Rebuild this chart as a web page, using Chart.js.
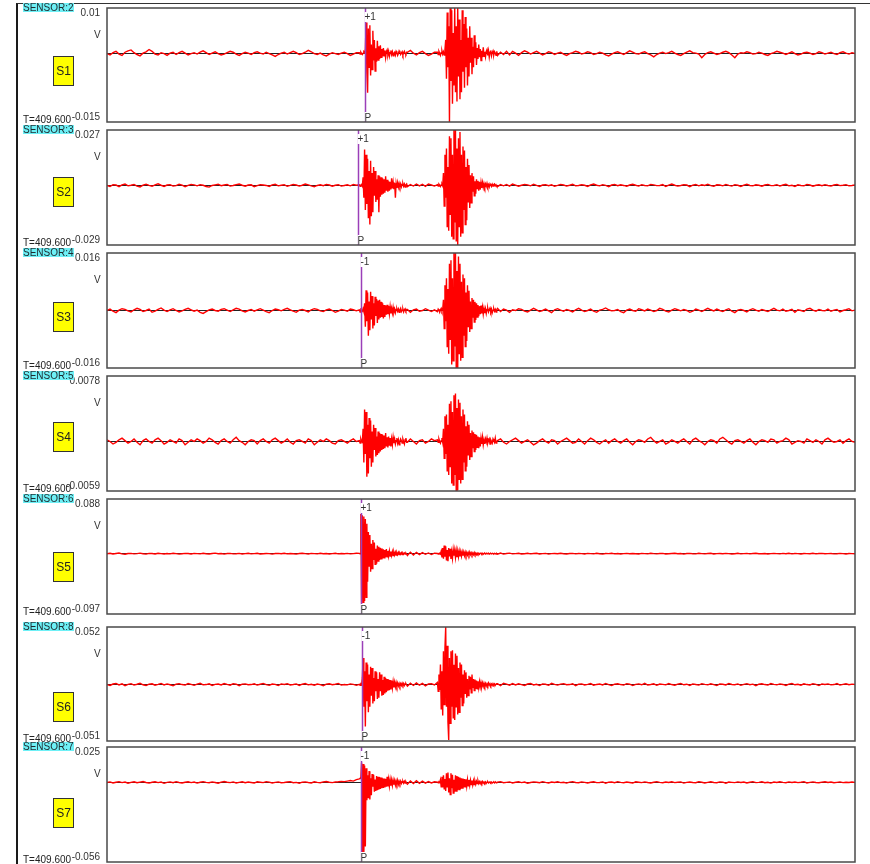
<!DOCTYPE html>
<html>
<head>
<meta charset="utf-8">
<title>Sensor waveforms</title>
<script src="https://cdn.jsdelivr.net/npm/chart.js@4.4.1/dist/chart.umd.min.js"></script>
<style>
  body { margin: 0; background: #fff; font-family: "Liberation Sans", Arial, sans-serif; }
  #page { position: relative; width: 870px; height: 864px; overflow: hidden; }
  #frame { position: absolute; left: 16px; top: 3px; right: 0; bottom: 0; border-left: 2px solid #1a1a1a; border-top: 1px solid #333; }
  .panel { position: absolute; left: 18px; width: 852px; }
  .panel canvas { position: absolute; left: 0; top: 0; }
  .sensor { position: absolute; left: 5px; top: 3px; height: 9px; line-height: 9px; font-size: 10px; background: #6ef0f6; color: #1e2a2e; white-space: nowrap; }
  .unit { position: absolute; left: 76px; top: 30px; font-size: 10px; line-height: 10px; color: #333; }
  .badge { position: absolute; left: 35px; width: 19px; height: 28px; border: 1px solid #333; background: #ffff00; color: #222; font-size: 12px; line-height: 28px; text-align: center; }
  .stamp { position: absolute; left: 5px; font-size: 10px; line-height: 10px; color: #222; white-space: nowrap; }
</style>
</head>
<body>
<div id="page"><div id="frame"></div></div>
<script>
// channel names, badges and vertical ranges (V)
const sensorNames = ['SENSOR:2', 'SENSOR:3', 'SENSOR:4', 'SENSOR:5', 'SENSOR:6', 'SENSOR:8', 'SENSOR:7'];
const channelLabels = ['S1', 'S2', 'S3', 'S4', 'S5', 'S6', 'S7'];
const yMax = [0.01, 0.027, 0.016, 0.0078, 0.088, 0.052, 0.025];
const yMin = [-0.015, -0.029, -0.016, -0.0059, -0.097, -0.051, -0.056];
const startTime = 'T=409.600';

// P picks: sample position, first-motion polarity and phase name
const pickSample = [86, 83.6, 84.6, null, 84.6, 84.9, 84.6];
const pickPolarity = ['+1', '+1', '-1', null, '+1', '-1', '-1'];
const pickPhase = ['P', 'P', 'P', null, 'P', 'P', 'P'];

// sample grid: [from, to, step] in samples; the P and S windows are recorded at 4x rate
const gridSegments = [[0, 84, 1], [84, 100, 0.25], [100, 110, 1], [110, 130, 0.25], [130, 250, 1]];

// samples in 0.1 mV counts, one value per grid point (358 per channel)
const UNIT = 1e-4;
const s1 = [
  // 0-83
  0, -3, 2, 5, -1, -4, 3, 6, 8, 2, -2, -5, 1, 4, 9, 5, -1, -3, 2, 0,
  -4, 1, 3, -2, 2, 5, 1, -3, 0, 2, -1, 3, 6, 2, -2, 1, 4, 0, -3, -1,
  2, 5, 3, -1, -4, 0, 3, 1, -2, 2, 4, 1, -1, 3, 0, -3, -6, -2, 1, 3,
  -1, 2, 5, 2, -2, 0, 3, 7, 4, 0, -2, 1, -3, -5, -1, 2, 0, -2, 1, 3,
  0, -4, -1, 2,
  // 84-100 (P)
  2, -1, 3, 0, -2, 1, 4, 2, 10, 68, -40, -86, 55, -30, 62, -48,
  20, -35, 50, -15, 30, -38, 12, -18, 28, -14, 16, -12, 18, -8, 10, -6,
  12, -5, 7, -9, 4, 8, -3, 5, -6, 2, 7, -2, 4, -5, 1, 3,
  -3, 5, 2, -4, 0, 6, 3, -2, 1, 4, -3, 2, 5, 0, -2, 3,
  // 100-109
  3, 7, 1, -3, 2, 5, 0, -4, -1, 3,
  // 110-130 (S)
  3, -2, 5, 1, -4, 2, 6, -1, 4, -3, 8, 30, -55, 90, -30, 60,
  -150, 100, -60, 95, -110, 45, -70, 100, -85, 60, -105, 100, -50, 75, -100, 30,
  -85, 95, -40, 65, -75, 80, -30, 55, -70, 35, -50, 60, -20, 35, -45, 15,
  -30, 40, -10, 25, -25, 12, -12, 20, -8, 10, -15, 6, -8, 14, -6, 4,
  -7, 5, 9, -4, 6, -8, 3, 7, -5, 2, 6, -3, 4, 1, -4, 5,
  // 130-249
  -4, 3, -2, 5, -3, 5, 1, -4, 2, 6, 3, -1, 2, 5, 1, -3, 0, 4, 2, -2,
  1, 3, -1, -4, 0, 2, 5, 3, -1, 1, 4, 2, -2, 0, 3, 1, -3, -5, -1, 2,
  4, 1, -2, 2, 6, 3, 0, -1, 2, 4, 0, -3, -7, -2, 1, 3, 0, 2, 5, 1,
  -2, -4, 0, 3, 6, 2, 1, -1, -9, -2, 2, 4, 1, -2, 0, 3, 5, 2, -3, -9,
  -1, 2, 1, 4, 2, -1, 0, 3, 1, -2, -4, 0, 2, 5, 3, 1, -2, 1, 4, 0,
  -3, -1, 2, 3, 1, -2, 0, 4, 2, -1, 1, 3, 0, -2, 2, 4, 1, -1, 2, 0
];
const s2 = [
  0, -5, 4, 2, -6, 3, 7, -2, 1, 5, -3, -7, 2, 6, 0, -4, 3, 8, 1, -5,
  2, 4, -3, -1, 6, 2, -6, 0, 5, 3, -2, 4, 1, -5, -8, 0, 3, 6, -1, 2,
  5, -3, 0, 4, 7, 1, -4, 2, 3, -6, -1, 4, 2, 0, -5, 3, 6, -2, 1, 4,
  -4, 0, 5, 2, -3, 1, 7, 3, -2, -6, 0, 3, -1, 5, 2, -4, 1, 4, -3, 0,
  3, -2, 5, 1,
  3, -4, 2, 5, -3, 40, -60, 175, -120, 150, -90, 130, -160, 70, -190, 120,
  -150, 60, -130, 90, -50, 70, -80, 30, -70, 50, -130, 45, -55, 40, -45, 35,
  -40, 30, -35, 45, -25, 28, -30, 20, -25, 18, -20, 35, -15, 16, -18, 12,
  -60, 10, -12, 14, -8, 10, -6, 8, -7, 5, 9, -4, 6, -8, 3, 7,
  -6, 4, -3, 7, -2, 6, -4, 7, 2, -3,
  4, -3, 6, 1, -5, 2, 7, -2, 60, -100, 150, -60, 180, -200, 90, -220,
  240, -140, 230, -250, 150, -260, 270, -180, 275, -270, 180, -290, 230, -200, 260, -250,
  150, -230, 190, -120, 170, -190, 90, -170, 130, -80, 100, -110, 50, -85, 60, -30,
  45, -50, 20, -40, 30, -15, 22, -25, 18, -20, 15, -12, 14, -10, 9, -8,
  7, -5, 10, -6, 4, -7, 8, 2, -5, 6, -3, 4, 7, -2, 3, -4,
  -6, 4, -2, 5, -3, 7, 2, -4, 1, 5, 3, -2, 6, 0, -5, 2, 4, -1, 3, -4,
  0, 5, 2, -3, 1, 6, -2, 0, 4, 1, -5, 3, 7, 1, -2, 4, 0, -6, 2, 5,
  -1, 3, 0, -4, 2, 6, 1, -3, 4, 0, -2, 5, 3, -1, 0, 4, -5, 2, 7, 1,
  -3, 0, 4, 2, -6, 1, 5, -2, 3, 0, 6, -1, -4, 3, 2, -2, 5, 0, -3, 4,
  1, -5, 2, 6, 0, -2, 3, 1, -4, 2, 5, -1, 0, 4, -3, 2, 6, -2, 1, -5,
  3, 0, -2, 5, 2, -4, 1, 3, -1, 4, 0, -3, 2, 5, -1, 1, 4, -2, 0, 3
];
const s3 = [
  0, 4, -2, -6, 1, 5, 3, -1, -4, 2, 6, 3, -3, 0, 4, -5, -2, 3, 7, 1,
  -3, 2, 5, 0, -4, -1, 3, 6, 2, -2, 1, -5, -8, -3, 2, 4, 0, -2, 3, 5,
  1, -3, 2, 6, 4, -1, -4, 0, 3, -2, 2, 5, 1, -3, -6, 0, 4, 2, -1, 3,
  6, 2, -2, -5, 1, 3, 0, -4, 2, 5, 3, -1, -3, 2, 4, 0, -5, -2, 3, 1,
  -2, 4, 2, -1,
  2, -4, 3, 1, -2, 5, -3, 20, -45, 56, -30, 50, -70, 25, -55, 52,
  -25, 40, -50, 20, -42, 38, -15, 32, -35, 28, -25, 30, -20, 24, -18, 20,
  -22, 15, -18, 14, -12, 16, -10, 12, -9, 11, -8, 6, -7, 9, -5, 4,
  -6, 3, 5, -2, 4, -5, 2, 6, -3, 1, 4, -4, 2, 5, -1, 3,
  3, -5, 2, 4, -2, 0, 5, 1, -3, 2,
  -3, 4, 1, -5, 2, 6, -2, 3, 30, -50, 70, -30, 90, -100, 60, -120,
  130, -80, 140, -150, 90, -140, 160, -100, 165, -160, 110, -165, 150, -120, 130, -140,
  80, -130, 100, -70, 90, -100, 50, -85, 70, -45, 55, -60, 25, -50, 35, -20,
  30, -32, 24, -26, 20, -18, 15, -16, 12, -10, 14, -8, 9, -10, 6, -7,
  5, -8, 3, 6, -4, 2, 7, -3, 4, -6, 1, 5, -2, 3, -4, 2,
  6, -3, 4, 1, -5, 2, 0, 5, 3, -2, -4, 1, 6, 2, -3, 0, 4, -1, -6, 2,
  5, 1, -2, 3, 0, -4, 2, 6, 1, -3, 0, 4, -2, -5, 1, 3, 7, 2, -1, 0,
  3, -3, -6, 1, 4, 0, -2, 5, 2, -1, 4, 1, -3, 0, 6, 3, -2, -4, 1, 5,
  2, -1, 3, 0, -5, -2, 4, 1, -3, 2, 6, 2, -1, 4, 0, -3, 2, 5, -2, -6,
  1, 3, 0, -4, 2, 5, 1, -2, 3, 0, -3, 2, 6, 1, -1, 4, -2, 0, 3, -5,
  2, 0, -3, 4, 6, 1, -2, 3, 0, -1, 4, -2, 1, 3, -4, 0, 2, 5, -1, 1
];
const s4 = [
  2, 0, -3, -1, 2, 4, 1, -2, 0, 3, -1, -4, 1, 3, 0, -2, 2, 4, 1, -3,
  -1, 2, 0, -2, 3, 1, -4, -1, 2, 0, 3, 1, -2, 0, 4, 2, -1, -3, 1, 3,
  0, -2, 2, 5, 1, -1, -4, 0, 2, 1, -3, 1, 3, 0, -2, 2, 4, 1, -2, 0,
  3, -1, -3, 1, 2, 0, -2, 3, 1, -4, -1, 2, 0, 3, 1, -2, -3, 1, 2, 0,
  -2, 1, 3, 0,
  1, -2, 3, 0, -1, 15, -25, 38, -15, 35, -42, 20, -38, 28, -20, 25,
  -30, 12, -25, 20, -10, 16, -18, 6, -16, 12, -14, 10, -12, 9, -10, 8,
  -9, 7, -8, 10, -6, 5, -7, 6, -5, 4, -6, 3, -4, 5, -2, 3,
  -3, 1, 4, -2, 2, -4, 0, 3, 1, -2, 3, 0, -3, 2, 4, -1,
  -1, 3, 0, -3, 1, 2, -2, 0, 3, 1,
  2, -1, 3, 0, -2, 1, 4, -1, 15, -20, 30, -15, 32, -35, 20, -40,
  45, -30, 48, -50, 35, -52, 55, -40, 57, -59, 40, -58, 50, -45, 46, -50,
  30, -45, 38, -25, 32, -35, 18, -30, 24, -16, 20, -22, 10, -18, 13, -8,
  11, -12, 9, -10, 8, -7, 6, -8, 5, -6, 4, -3, 5, -4, 2, -3,
  3, -1, 4, -2, 1, 3, -3, 2, 0, -2, 3, 1, -1, 4, -2, 0,
  1, 3, -1, -3, 0, 2, 4, 1, -2, 0, 2, -1, -4, -2, 1, 3, 0, -2, 2, 1,
  -3, 0, 2, 4, 1, -2, -1, 3, 0, -3, 1, 4, 2, -1, -3, 0, 2, -2, 1, 3,
  0, -2, 1, 3, -1, -4, 0, 2, 1, -1, 3, 5, 1, -2, 0, 2, -3, -1, 2, 0,
  -2, 1, 3, 0, -3, 2, 4, 1, -1, -4, 0, 2, 1, -2, 3, 5, 2, -1, -3, 1,
  2, 0, -2, 1, 3, -1, -4, 0, 2, 1, -1, 3, 2, -2, 0, 1, 4, 2, -3, -1,
  1, 0, -2, 3, 1, -1, 2, 0, -3, 2, 4, 1, -1, 0, 2, -2, 1, 3, 0, -1
];
const s5 = [
  0, 8, -5, 3, 10, -2, -8, 4, 6, -3, 2, 9, 0, -6, 5, 3, -4, 7, 1, -5,
  4, -2, 8, 2, -7, 0, 6, 3, -4, 5, 1, -3, 7, 0, -5, 4, 9, -1, 2, -6,
  3, 6, -2, 0, 5, -4, 2, 8, -3, 1, 6, -5, 0, 4, 2, -7, 3, 5, -1, 7,
  -2, 4, 0, -6, 3, 8, 1, -4, 5, 2, -3, 6, 0, 3, -5, 2, 7, -2, 4, 0,
  5, -3, 2, 8,
  5, -3, 640, -800, 620, -780, 600, -760, 560, -700, 480, -450, 350, -200, 300, -290,
  160, -240, 220, -100, 180, -170, 80, -160, 130, -120, 110, -100, 95, -80, 85, -75,
  70, -65, 60, -55, 75, -50, 45, -40, 42, -38, 35, -30, 32, -28, 25, -22,
  24, -20, 18, -15, 20, -14, 12, -10, 15, -12, 10, -8, 12, -6, 9, -7,
  -30, 25, -20, 22, -15, 18, -10, 12, -14, 8,
  4, -6, 3, 8, -5, 40, -60, 90, -80, 130, -50, 120, -110, 60, -120, 90,
  -45, 80, -85, 30, -75, 65, -30, 60, -60, 50, -55, 45, -48, 40, -42, 35,
  -38, 30, -32, 28, -30, 24, -26, 20, -22, 18, -20, 25, -16, 15, -18, 12,
  -14, 20, -12, 10, -15, 9, -10, 8, -9, 6, 10, -5, 7, -8, 4, 6,
  -5, 8, -3, 4, 9, -6, 2, 5, -4, 7, 0, -3, 6, 2, -5, 3,
  -8, 10, -6, 4, 9, -3, 2, 7, -5, 0, 6, -2, 3, 8, -4, 1, 5, -6, 2, 4,
  -1, 7, 0, -5, 3, 6, -2, 4, 1, -4, 5, 2, -3, 8, 0, -6, 4, 1, 7, -2,
  3, -5, 2, 6, -1, 4, 0, -4, 5, 2, -3, 8, 1, -2, 4, 6, -5, 0, 3, 7,
  -1, 2, -6, 4, 5, 0, -3, 6, 2, -2, 4, 7, -4, 1, 3, -1, 5, 2, -5, 0,
  6, -3, 2, 5, -2, 3, 8, -1, 0, 4, -4, 2, 6, 1, -3, 5, 0, 7, -2, 3,
  1, -5, 4, 2, 0, 6, -2, 3, 5, -1, 2, 4, -3, 0, 6, 1, -4, 3, 2, 0
];
const s6 = [
  0, -8, 5, 10, -3, 6, -10, 2, 8, -5, 3, 12, -2, -9, 4, 7, -6, 1, 10, -4,
  6, -2, -11, 3, 8, 0, -5, 9, 2, -7, 4, 11, -3, 0, 7, -8, 2, 5, -4, 9,
  1, -6, 8, 3, -10, 4, 6, -2, 0, 7, -5, 3, 10, -1, -7, 5, 2, -9, 6, 1,
  8, -4, 0, 6, -8, 3, 9, -3, 2, -6, 5, 0, -10, 4, 7, -2, 3, 10, -5, 1,
  -3, 6, 2, -7,
  3, -6, 5, -2, 60, 240, -200, 120, -380, 200, -150, 180, -250, 90, -200, 160,
  -100, 150, -170, 60, -150, 120, -60, 110, -130, 50, -120, 110, -60, 90, -100, 40,
  -95, 70, -80, 60, -70, 50, -55, 45, -50, 40, -45, 35, -30, 28, -25, 22,
  -20, 18, -15, 14, -12, 10, -14, 8, -9, 12, -6, 10, -8, 5, 9, -4,
  -15, 12, -8, 14, -6, 10, -12, 5, 8, -4,
  20, -60, 90, -50, 180, -220, 120, -280, 300, -180, 330, 520, -200, 350, -340, -500,
  240, -350, 300, -200, 310, -300, 180, -320, 280, -200, 260, -270, 150, -250, 200, -120,
  180, -190, 90, -170, 130, -80, 110, -120, 50, -100, 80, -45, 70, -75, 90, -30,
  50, -55, 45, -40, 35, -38, 30, -28, 25, -22, 20, -18, 15, -16, 12, -14,
  10, -12, 8, -9, 14, -6, 7, -10, 5, -8, 9, -4, 6, -7, 3, 8,
  8, -10, 12, 4, -6, 9, -3, 7, 0, -8, 5, 10, -4, 2, -9, 6, 3, -7, 11, 1,
  -5, 4, 8, -2, 0, 7, -10, 3, 6, -4, 2, 9, -6, 1, 5, -3, 10, -1, -8, 4,
  7, 0, -5, 8, 3, -9, 2, 6, -2, 11, -4, 1, 7, -7, 5, 2, -3, 9, 0, -6,
  4, 10, -2, 3, -8, 6, 1, -5, 8, 2, -3, 7, 0, -9, 5, 3, -4, 10, 1, -2,
  6, -7, 2, 8, -1, 4, -10, 3, 7, 0, -5, 9, 2, -3, 6, 1, -8, 4, 10, -2,
  3, -6, 7, 0, -4, 8, 2, -9, 5, 1, 6, -3, 0, 9, -5, 2, 7, -1, 4, 0
];
const s7 = [
  0, 4, -3, 2, 6, -1, 3, -5, 1, 5, -2, 3, 7, 0, -4, 2, 5, -1, 3, -6,
  1, 4, -2, 6, 0, -3, 2, 5, -1, 3, -4, 2, 6, 1, -2, 4, 0, -5, 3, 7,
  2, -1, 4, -3, 1, 5, -2, 3, 0, -4, 5, 2, -1, 6, 3, -3, 1, 4, -2, 0,
  3, 6, -2, 1, -5, 2, 4, 0, -3, 5, 1, -2, 4, 7, 2, -1, 3, 5, 8, 6,
  10, 14, 10, 20,
  25, 30, 28, 140, -520, 130, -500, 120, -450, 100, -125, 50, -110, 80, -120, 30,
  -90, 60, -30, 55, -65, 20, -60, 45, -55, 40, -50, 38, -45, 35, -40, 30,
  -38, 28, -35, 25, -30, 40, -28, 22, -25, 20, -22, 18, -20, 16, -15, 14,
  -16, 12, -10, 15, -12, 9, -8, 10, -7, 6, 9, -5, 8, -4, 5, -6,
  -12, 10, -8, 12, -6, 9, -5, 7, -3, 5,
  3, -2, 5, 1, 20, -30, 40, -35, 50, -45, 25, -60, 65, -30, 70, -70,
  30, -85, 65, -40, 55, -75, 20, -65, 50, -60, 45, -55, 40, -50, 35, -45,
  30, -40, 28, -35, 25, -30, 22, -26, 20, -24, 18, -20, 16, -15, 14, -18,
  12, -14, 10, -12, 9, -8, 12, -7, 6, -8, 5, -6, 7, -4, 3, -5,
  4, -6, 2, 5, -3, 1, 4, -2, 3, -4, 1, 2, -3, 5, 0, -1,
  3, 6, -2, 1, 4, -3, 2, 5, -1, 3, -5, 0, 4, 2, -2, 6, 1, -3, 3, 0,
  5, -1, 2, -4, 3, 6, 0, -2, 4, 1, -3, 2, 5, -1, 0, 4, -5, 2, 3, -2,
  6, 1, -2, 3, 0, -4, 5, 2, -1, 4, 0, -3, 2, 6, 1, -2, 3, 0, 5, -1,
  2, 4, -4, 1, 3, 0, -2, 6, 2, -3, 1, 5, 0, -2, 4, 2, -5, 3, 1, -1,
  4, 0, 3, -3, 2, 6, -1, 1, 5, -2, 2, -4, 3, 0, 5, 1, -2, 4, 0, 3,
  -1, 2, 6, -3, 1, 4, 0, -2, 3, 5, 0, 3, -2, 1, 4, -1, 2, 0, 3, 1
];
const traces = [s1, s2, s3, s4, s5, s6, s7];

// sample positions for every grid point
const sampleX = [];
gridSegments.forEach(([from, to, step]) => {
  const n = Math.round((to - from) / step);
  for (let j = 0; j < n; j++) sampleX.push(from + j * step);
});

// panel boxes on the page (px) and badge offset from the box top
const panelBoxes = [
  { top: 8, bottom: 122, badge: 48 },
  { top: 130, bottom: 245, badge: 47 },
  { top: 253, bottom: 368, badge: 49 },
  { top: 376, bottom: 491, badge: 46 },
  { top: 499, bottom: 614, badge: 53 },
  { top: 627, bottom: 741, badge: 65 },
  { top: 747, bottom: 862, badge: 51 }
];
const PLOT_LEFT = 89;    // 107 on the page
const PLOT_RIGHT = 15;   // gap to the canvas right edge
const PAD_TOP = 8;
const PAD_BOTTOM = 4;

Chart.defaults.font.family = '"Liberation Sans", Arial, sans-serif';
Chart.defaults.color = '#333';

// box, pick line and pick annotations
const panelFrame = {
  id: 'panelFrame',
  afterDatasetsDraw(chart, args, opts) {
    const { ctx, chartArea: a, scales: { x } } = chart;
    const k = opts.index;
    ctx.save();
    if (pickSample[k] != null) {
      const px = Math.round(x.getPixelForValue(pickSample[k])) + 0.5;
      ctx.strokeStyle = '#9b3fb8';
      ctx.lineWidth = 1.5;
      ctx.beginPath();
      ctx.moveTo(px, a.top);
      ctx.lineTo(px, a.bottom);
      ctx.stroke();
      ctx.font = '10px "Liberation Sans", Arial, sans-serif';
      ctx.textBaseline = 'alphabetic';
      const wPol = ctx.measureText(pickPolarity[k]).width;
      ctx.fillStyle = '#fff';
      ctx.fillRect(px - 1, a.top + 4, wPol + 1, 10);
      ctx.fillStyle = '#333';
      ctx.fillText(pickPolarity[k], px - 1, a.top + 12);
      const wPh = ctx.measureText(pickPhase[k]).width;
      ctx.fillStyle = '#fff';
      ctx.fillRect(px - 1, a.bottom - 10, wPh + 1, 9);
      ctx.fillStyle = '#333';
      ctx.fillText(pickPhase[k], px - 1, a.bottom - 1);
    }
    ctx.strokeStyle = '#4a4a4a';
    ctx.lineWidth = 1.5;
    ctx.strokeRect(a.left, a.top, a.right - a.left, a.bottom - a.top);
    ctx.restore();
  }
};

const page = document.getElementById('page');

panelBoxes.forEach((box, k) => {
  const plotH = box.bottom - box.top;
  const h = plotH + PAD_TOP + PAD_BOTTOM;

  const wrap = document.createElement('div');
  wrap.className = 'panel';
  wrap.style.top = (box.top - PAD_TOP) + 'px';
  wrap.style.height = h + 'px';

  const canvas = document.createElement('canvas');
  canvas.width = 852;
  canvas.height = h;
  wrap.appendChild(canvas);

  const stamp = document.createElement('div');
  stamp.className = 'stamp';
  stamp.style.top = (plotH + 0.5) + 'px';
  stamp.textContent = startTime;
  wrap.appendChild(stamp);

  const sensor = document.createElement('div');
  sensor.className = 'sensor';
  sensor.textContent = sensorNames[k];
  wrap.appendChild(sensor);

  const unit = document.createElement('div');
  unit.className = 'unit';
  unit.textContent = 'V';
  wrap.appendChild(unit);

  const badge = document.createElement('div');
  badge.className = 'badge';
  badge.style.top = (box.badge + PAD_TOP) + 'px';
  badge.textContent = channelLabels[k];
  wrap.appendChild(badge);

  page.appendChild(wrap);

  const points = traces[k].map((v, i) => ({ x: sampleX[i], y: v * UNIT }));

  new Chart(canvas, {
    type: 'line',
    data: {
      datasets: [{
        data: points,
        borderColor: '#ff0000',
        borderWidth: 1.4,
        pointRadius: 0,
        tension: 0,
        fill: false
      }]
    },
    options: {
      responsive: false,
      animation: false,
      devicePixelRatio: 1,
      events: [],
      layout: { padding: { left: 0, top: PAD_TOP, right: PLOT_RIGHT, bottom: PAD_BOTTOM } },
      plugins: {
        legend: { display: false },
        tooltip: { enabled: false },
        panelFrame: { index: k }
      },
      scales: {
        x: { type: 'linear', display: false, min: 0, max: 249 },
        y: {
          min: yMin[k],
          max: yMax[k],
          afterBuildTicks: s => { s.ticks = [{ value: yMin[k] }, { value: 0 }, { value: yMax[k] }]; },
          afterFit: s => { s.width = PLOT_LEFT; s.paddingTop = 0; s.paddingBottom = 0; },
          border: { display: false },
          grid: {
            drawTicks: false,
            lineWidth: 1,
            color: c => (c.tick && c.tick.value === 0 ? '#222' : 'rgba(0,0,0,0)')
          },
          ticks: {
            autoSkip: false,
            padding: 7,
            color: '#333',
            font: c => ({ size: 10, lineHeight: c.tick && c.tick.value === yMin[k] ? 0.9 : 1.1 }),
            // min/max labels sit just inside the box edges
            callback: v => (v === yMax[k] ? ['', String(v)] : v === yMin[k] ? [String(v), ''] : '')
          }
        }
      }
    },
    plugins: [panelFrame]
  });
});
</script>
</body>
</html>
